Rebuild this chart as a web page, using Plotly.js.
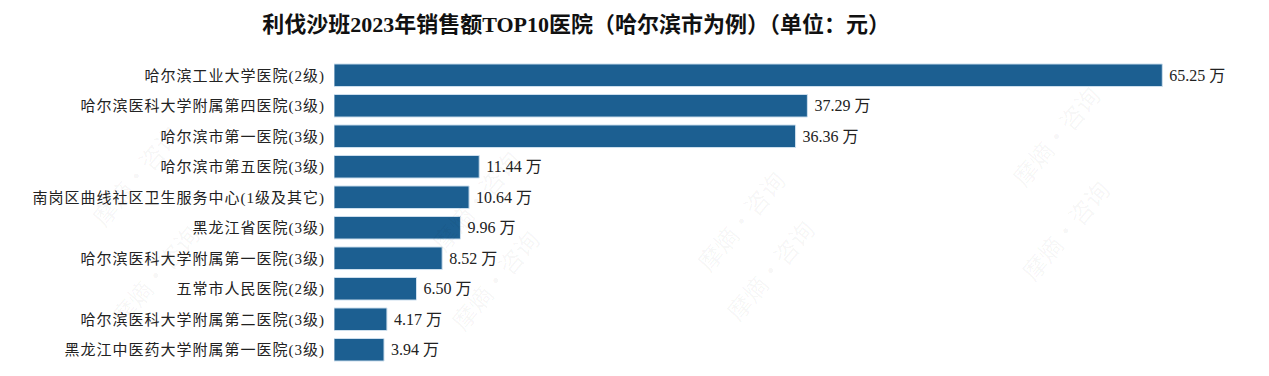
<!DOCTYPE html>
<html>
<head>
<meta charset="utf-8">
<script src="https://cdn.plot.ly/plotly-3.0.1.min.js"></script>
<style>
html,body{margin:0;padding:0;background:#fff}
#chart{width:1269px;height:376px}
#chart .ytick text{letter-spacing:1px}
</style>
</head>
<body>
<div id="chart"></div>
<script>
const hospitals = [
  "哈尔滨工业大学医院(2级)",
  "哈尔滨医科大学附属第四医院(3级)",
  "哈尔滨市第一医院(3级)",
  "哈尔滨市第五医院(3级)",
  "南岗区曲线社区卫生服务中心(1级及其它)",
  "黑龙江省医院(3级)",
  "哈尔滨医科大学附属第一医院(3级)",
  "五常市人民医院(2级)",
  "哈尔滨医科大学附属第二医院(3级)",
  "黑龙江中医药大学附属第一医院(3级)"
];
const sales = [65.25, 37.29, 36.36, 11.44, 10.64, 9.96, 8.52, 6.50, 4.17, 3.94];
const unit = "万";
const titleText = "利伐沙班2023年销售额TOP10医院（哈尔滨市为例）（单位：元）";
const watermark = "摩熵·咨询";

const fontFam = "Liberation Serif, 'Noto Sans CJK SC', serif";

const trace = {
  type: "bar",
  orientation: "h",
  y: hospitals,
  x: sales,
  text: sales.map(v => " " + v.toFixed(2) + " " + unit),
  textposition: "outside",
  cliponaxis: false,
  textfont: {family: fontFam, size: 16, color: "#222"},
  marker: {color: "#1c5f91", line: {color: "#cfe0ee", width: 1}},
  hoverinfo: "none"
};

const wmPos = [[100,335],[420,140],[740,160],[1110,75],[440,340],[770,330],[1120,290],[80,115]];
const annotations = wmPos.map(p => ({
  text: watermark, xref: "paper", yref: "paper", showarrow: false,
  x: (p[0]-334)/(1248-334), y: (365-p[1])/(365-60),
  textangle: -50, font: {family: "'Noto Sans CJK SC'", size: 24, color: "rgba(0,0,0,0.045)"}
}));

const layout = {
  width: 1269, height: 376,
  margin: {l: 334, r: 21, t: 60, b: 11},
  paper_bgcolor: "#fff", plot_bgcolor: "#fff",
  title: {text: "<b>" + titleText + "</b>", font: {family: fontFam, size: 22, color: "#111"},
          xref: "container", x: 0.454, xanchor: "center", yref: "container", y: 0.935, yanchor: "middle"},
  xaxis: {range: [0, 72], visible: false, showgrid: false, zeroline: false, fixedrange: true},
  yaxis: {autorange: "reversed", showgrid: false, zeroline: false, showline: false, ticks: "",
          ticklabelstandoff: 8,
          tickfont: {family: fontFam, size: 15, color: "#222"}, fixedrange: true},
  bargap: 0.26,
  showlegend: false,
  annotations: annotations
};

Plotly.newPlot("chart", [trace], layout, {displayModeBar: false, staticPlot: true});
</script>
</body>
</html>
